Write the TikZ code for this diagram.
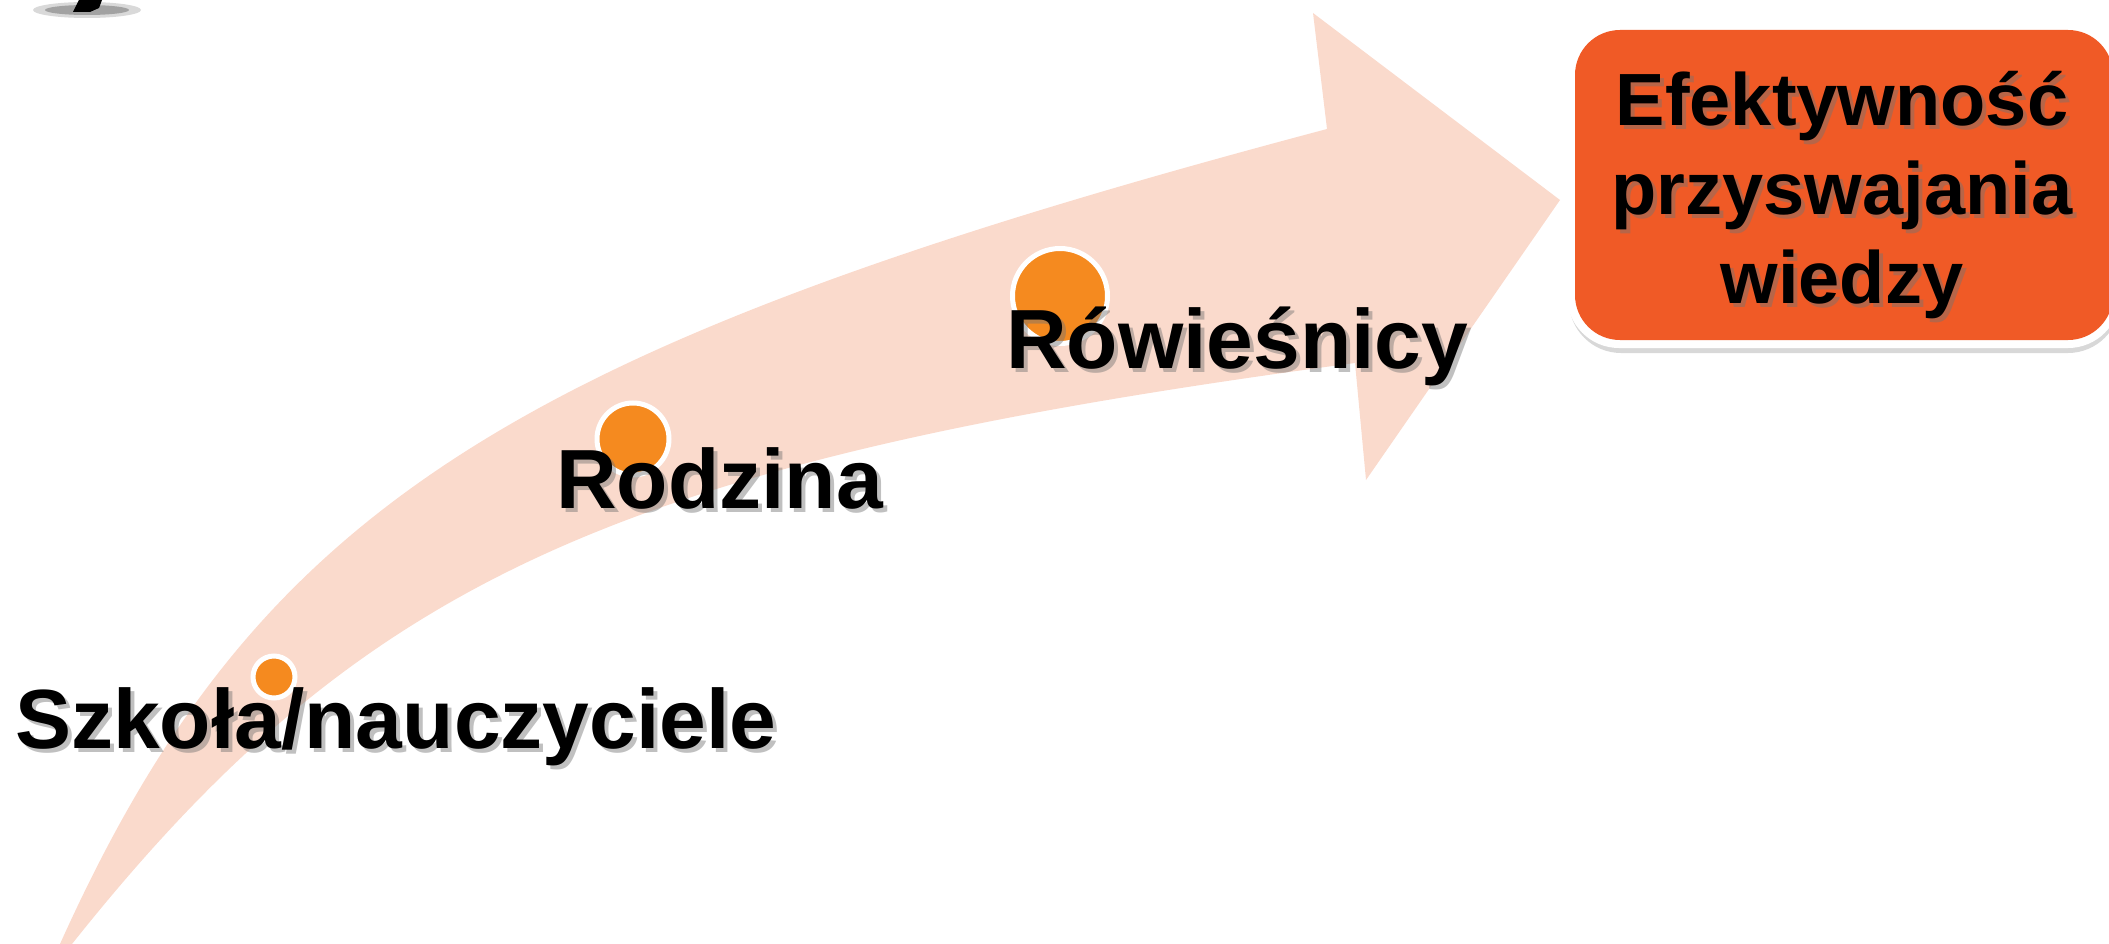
\documentclass[tikz,border=0pt]{standalone}
\usepackage{fontspec}
\setmainfont{Liberation Sans}
\definecolor{bandc}{RGB}{250,218,204}
\definecolor{dotc}{RGB}{245,138,31}
\definecolor{boxc}{RGB}{240,90,38}
\tikzset{
  lbl/.style={inner sep=0pt, font=\fontsize{84}{90}\selectfont\bfseries},
  lblshadow/.style={lbl, text=black!55, opacity=0.45},
  boxtxt/.style={inner sep=0pt, text width=540pt, align=center, anchor=base,
    font=\fontsize{74}{89}\selectfont\bfseries},
  dot/.style={circle, fill=dotc, draw=white, line width=5pt, inner sep=0pt},
}
\begin{document}
\begin{tikzpicture}[x=1pt,y=-1pt]
\useasboundingbox (0,0) rectangle (2109,944);
% top-left fragment
\fill[black!25, opacity=0.6] (87,10) ellipse [x radius=54, y radius=8];
\fill[black!45, opacity=0.7] (87,10) ellipse [x radius=42, y radius=5];
\fill[black] (73,12) -- (79,0) -- (102,0) -- (99,8) -- (90,12) -- cycle;
% arrow band
\fill[bandc] (60,944) .. controls (256,509) and (509,346) .. (1327,129)
  -- (1313,13) -- (1560,200) -- (1366,480) -- (1355,363)
  .. controls (621,461) and (364,577) .. (72,944) -- cycle;
% dots
\node[dot, minimum size=95pt] (d3) at (1060,296) {};
\node[dot, minimum size=72pt] (d2) at (633,439) {};
\node[dot, minimum size=42pt] (d1) at (274,677) {};
% labels
\node[lblshadow, anchor=base west] (t3s) at (1010,372) {Rówieśnicy};
\node[lbl, anchor=base west] (t3) at (1006,368) {Rówieśnicy};
\node[lblshadow, anchor=base west] (t2s) at (560,512) {Rodzina};
\node[lbl, anchor=base west] (t2) at (556,508) {Rodzina};
\node[lblshadow, anchor=base west] (t1s) at (19,752) {Szkoła/nauczyciele};
\node[lbl, anchor=base west] (t1) at (15,748) {Szkoła/nauczyciele};
% result box
\fill[black!30, opacity=0.5, rounded corners=52pt] (1569,26) rectangle (2120,353);
\fill[white, rounded corners=52pt] (1567,22) rectangle (2120,348);
\fill[boxc, rounded corners=45pt] (1575,30) rectangle (2113,340);
\node[boxtxt, text=black!55, opacity=0.45] (boxs) at (1846,130) {Efektywność\\przyswajania\\wiedzy};
\node[boxtxt] (box) at (1842,126) {Efektywność\\przyswajania\\wiedzy};
\end{tikzpicture}
\end{document}
